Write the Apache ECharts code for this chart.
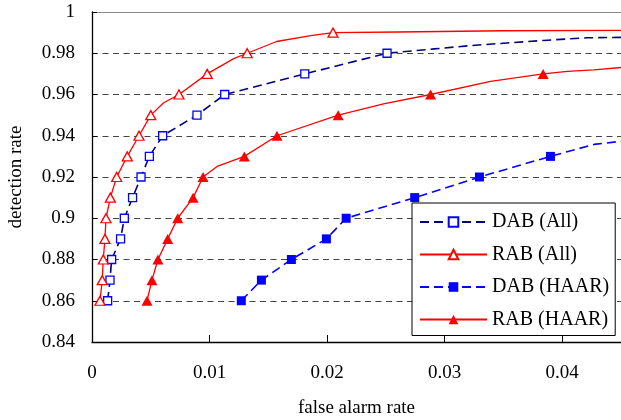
<!DOCTYPE html>
<html>
<head>
<meta charset="utf-8">
<script src="https://cdn.jsdelivr.net/npm/echarts@6/dist/echarts.min.js"></script>
<style>
html,body{margin:0;padding:0;background:#fff;}
#chart{width:621px;height:420px;}
</style>
</head>
<body>
<div id="chart"></div>
<script>
// ---- Data ----
const seriesNames = ['DAB (All)', 'RAB (All)', 'DAB (HAAR)', 'RAB (HAAR)'];
const xTicks = [0, 0.01, 0.02, 0.03, 0.04];
const yTicks = [0.84, 0.86, 0.88, 0.9, 0.92, 0.94, 0.96, 0.98, 1];

// DAB (All): marked points
const dabAllX = [0.00133, 0.00153, 0.00167, 0.00243, 0.00275, 0.00345, 0.00417, 0.00488, 0.00601, 0.00893, 0.01129, 0.0181, 0.0251];
const dabAllY = [0.86, 0.87, 0.88, 0.89, 0.90, 0.91, 0.92, 0.93, 0.94, 0.95, 0.96, 0.97, 0.98];
// DAB (All): extra line vertices (no marker)
const dabAllLineX = [0.0291, 0.0322, 0.0353, 0.0384, 0.0421, 0.045];
const dabAllLineY = [0.9821, 0.9837, 0.985, 0.9862, 0.9875, 0.9877];

// RAB (All)
const rabAllX = [0.00068, 0.00087, 0.00096, 0.0011, 0.00119, 0.00156, 0.0021, 0.0030, 0.0040, 0.0050, 0.0074, 0.0098, 0.0132, 0.0205];
const rabAllY = [0.86, 0.87, 0.88, 0.89, 0.90, 0.91, 0.92, 0.93, 0.94, 0.95, 0.96, 0.97, 0.98, 0.99];
const rabAllLineX = [0.0061, 0.01205, 0.0157, 0.0186, 0.026, 0.035, 0.045];
const rabAllLineY = [0.956, 0.9774, 0.9857, 0.9885, 0.9903, 0.9909, 0.9911];

// DAB (HAAR)
const dabHaarX = [0.0127, 0.01441, 0.01696, 0.01994, 0.02162, 0.02745, 0.03296, 0.0390];
const dabHaarY = [0.86, 0.87, 0.88, 0.89, 0.90, 0.91, 0.92, 0.93];
const dabHaarLineX = [0.0427, 0.045];
const dabHaarLineY = [0.9358, 0.9373];

// RAB (HAAR)
const rabHaarX = [0.00468, 0.0051, 0.00561, 0.00644, 0.00729, 0.0086, 0.00945, 0.01296, 0.01574, 0.02094, 0.0288, 0.03838];
const rabHaarY = [0.86, 0.87, 0.88, 0.89, 0.90, 0.91, 0.92, 0.93, 0.94, 0.95, 0.96, 0.97];
const rabHaarLineX = [0.01064, 0.0248, 0.0339, 0.04043, 0.04269, 0.045];
const rabHaarLineY = [0.9251, 0.9554, 0.9664, 0.9712, 0.9719, 0.9731];

function build(xs, ys, lx, ly) {
  const pts = xs.map((x, i) => ({ value: [x, ys[i]] }))
    .concat(lx.map((x, i) => ({ value: [x, ly[i]], symbol: 'none' })));
  pts.sort((a, b) => a.value[0] - b.value[0]);
  return pts;
}

const FONT = 'Liberation Serif';
const chart = echarts.init(document.getElementById('chart'), null, { renderer: 'canvas' });

const option = {
  backgroundColor: '#fff',
  animation: false,
  textStyle: { fontFamily: FONT, color: '#000' },
  grid: { left: 92, right: 0, top: 12, bottom: 78, containLabel: false, outerBoundsMode: 'none' },
  xAxis: [{
    type: 'value',
    min: xTicks[0],
    max: 0.045,
    interval: 0.01,
    name: 'false alarm rate',
    nameLocation: 'middle',
    nameGap: 57,
    nameTextStyle: { fontFamily: FONT, fontSize: 19, color: '#000' },
    axisLine: { show: true, onZero: false, lineStyle: { color: '#000', width: 1.3 } },
    axisTick: { show: true, inside: true, length: 7, lineStyle: { color: '#000', width: 1 } },
    axisLabel: { fontFamily: FONT, fontSize: 19, color: '#000', margin: 22, showMaxLabel: false },
    splitLine: { show: false }
  }, {
    type: 'value',
    position: 'top',
    min: 0,
    max: 0.045,
    axisLine: { show: true, onZero: false, lineStyle: { color: '#888', width: 1.2 } },
    axisTick: { show: false },
    axisLabel: { show: false },
    splitLine: { show: false }
  }],
  yAxis: {
    type: 'value',
    min: yTicks[0],
    max: yTicks[yTicks.length - 1],
    interval: 0.02,
    name: 'detection rate',
    nameLocation: 'middle',
    nameGap: 66,
    nameRotate: 90,
    nameTextStyle: { fontFamily: FONT, fontSize: 19, color: '#000' },
    axisLine: { show: true, onZero: false, lineStyle: { color: '#000', width: 1.3 } },
    axisTick: { show: true, inside: true, length: 5, lineStyle: { color: '#000' } },
    axisLabel: {
      fontFamily: FONT, fontSize: 19, color: '#000', margin: 17,
      formatter: v => String(Math.round(v * 100) / 100)
    },
    splitLine: { show: true, showMinLine: false, showMaxLine: false, lineStyle: { color: '#444', type: [6, 4.5], width: 1 } }
  },
  legend: {
    orient: 'vertical',
    left: 412,
    top: 203,
    padding: [9, 6, 6, 7],
    itemWidth: 67,
    itemHeight: 12,
    itemGap: 12.5,
    backgroundColor: '#fff',
    borderColor: '#000',
    borderWidth: 1,
    textStyle: { fontFamily: FONT, fontSize: 20, color: '#000' },
    data: seriesNames
  },
  series: [
    {
      name: seriesNames[0], type: 'line',
      data: build(dabAllX, dabAllY, dabAllLineX, dabAllLineY),
      symbol: 'rect', symbolSize: 8,
      itemStyle: { color: '#fff', borderColor: '#0000FF', borderWidth: 1.3 },
      lineStyle: { color: '#000080', width: 1.6, type: [9, 5] },
      z: 3
    },
    {
      name: seriesNames[1], type: 'line',
      data: build(rabAllX, rabAllY, rabAllLineX, rabAllLineY),
      symbol: 'triangle', symbolSize: [10, 9],
      itemStyle: { color: '#fff', borderColor: '#FF0000', borderWidth: 1.3 },
      lineStyle: { color: '#FF0000', width: 1.3, type: 'solid' },
      z: 3
    },
    {
      name: seriesNames[2], type: 'line',
      data: build(dabHaarX, dabHaarY, dabHaarLineX, dabHaarLineY),
      symbol: 'rect', symbolSize: 9,
      itemStyle: { color: '#0000FF', borderColor: '#0000FF', borderWidth: 0 },
      lineStyle: { color: '#0000FF', width: 1.6, type: [9, 5] },
      z: 3
    },
    {
      name: seriesNames[3], type: 'line',
      data: build(rabHaarX, rabHaarY, rabHaarLineX, rabHaarLineY),
      symbol: 'triangle', symbolSize: [11, 10],
      itemStyle: { color: '#FF0000', borderColor: '#FF0000', borderWidth: 0 },
      lineStyle: { color: '#FF0000', width: 1.3, type: 'solid' },
      z: 3
    }
  ]
};
chart.setOption(option);
</script>
</body>
</html>
